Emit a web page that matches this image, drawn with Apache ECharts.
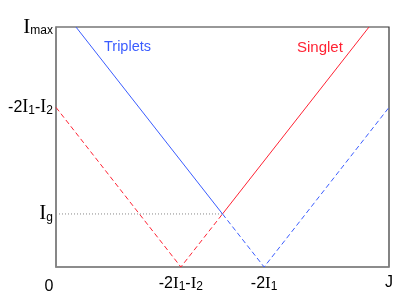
<!DOCTYPE html>
<html><head><meta charset="utf-8">
<script src="https://cdn.jsdelivr.net/npm/echarts@6/dist/echarts.min.js"></script>
<style>html,body{margin:0;padding:0;background:#fff}#c{width:415px;height:302px}</style>
</head><body><div id="c"></div>
<script>
// Tick positions (fractions of J and I_max) and labels
const xTickValues = [0, 0.375, 0.625, 1];
const xTickLabels = ['0', '-2I_1-I_2', '-2I_1', 'J'];
const yTickValues = [0.221, 0.665, 1];
const yTickLabels = ['I_g', '-2I_1-I_2', 'I_max'];
// Energy branches
const redDashed = [[0, 0.665], [0.375, 0], [0.5, 0.221]];
const redSolid = [[0.5, 0.221], [0.94, 1]];
const blueSolid = [[0.06, 1], [0.5, 0.221]];
const blueDashed = [[0.5, 0.221], [0.625, 0], [1, 0.665]];
const gapLine = [[0, 0.221], [0.5, 0.221]];
const seriesNames = ['Triplets', 'Singlet'];

function toRich(s, big) {
  let out = '', i = 0;
  while (i < s.length) {
    const c = s[i];
    if (c === 'I') { out += '{' + (big ? 'I' : 'i') + '|I}'; i++; }
    else if (c === '_') {
      let j = i + 1, t = '';
      while (j < s.length && s[j] !== '-') { t += s[j]; j++; }
      out += '{b|' + t + '}'; i = j;
    } else {
      let t = '';
      while (i < s.length && s[i] !== 'I' && s[i] !== '_') { t += s[i]; i++; }
      out += '{n|' + t + '}';
    }
  }
  return out;
}
function findLabel(vals, labels, v) {
  for (let k = 0; k < vals.length; k++) if (Math.abs(vals[k] - v) < 1e-6) return labels[k];
  return '';
}
const SANS = '"Liberation Sans", Arial, sans-serif';
const SERIF = '"Liberation Serif", "Times New Roman", serif';
function richStyles(fs, ifs, bigfs) {
  return {
    n: { fontFamily: SANS, fontSize: fs, color: '#000' },
    i: { fontFamily: SERIF, fontSize: ifs, color: '#000' },
    I: { fontFamily: SERIF, fontSize: bigfs, color: '#000' },
    b: { fontFamily: SANS, fontSize: 12, color: '#000', lineHeight: 12, padding: [7, 0, 0, 0] },
    z: { fontFamily: SANS, fontSize: 16, color: '#000', padding: [4, 14, 0, 0] }
  };
}
const RED = '#ff2233', BLUE = '#3a5cff';
const chart = echarts.init(document.getElementById('c'), null, { renderer: 'canvas' });
chart.setOption({
  animation: false,
  backgroundColor: '#fff',
  grid: { left: 56, right: 26, top: 27, bottom: 35, show: true, borderColor: '#333', borderWidth: 1.2 },
  xAxis: {
    type: 'value', min: 0, max: 1,
    splitLine: { show: false },
    axisTick: { show: false },
    axisLine: { show: true, lineStyle: { color: '#888', width: 1.5 } },
    axisLabel: {
      customValues: xTickValues, showMinLabel: true, showMaxLabel: true, hideOverlap: false,
      margin: 8,
      formatter: v => { const s = findLabel(xTickValues, xTickLabels, v); return s === '0' ? '{z|0}' : toRich(s, false); },
      rich: richStyles(16, 17, 17)
    }
  },
  yAxis: {
    type: 'value', min: 0, max: 1,
    splitLine: { show: false },
    axisTick: { show: false },
    axisLine: { show: true, lineStyle: { color: '#888', width: 1.5 } },
    axisLabel: {
      customValues: yTickValues, showMinLabel: true, showMaxLabel: true, hideOverlap: false,
      margin: 3,
      formatter: v => { const s = findLabel(yTickValues, yTickLabels, v); return toRich(s, s !== '-2I_1-I_2'); },
      rich: richStyles(16, 18, 21)
    }
  },
  graphic: [
    { type: 'text', left: 104, top: 39, style: { text: seriesNames[0], font: '14.5px ' + SANS, fill: BLUE } },
    { type: 'text', left: 297, top: 40, style: { text: seriesNames[1], font: '15px ' + SANS, fill: RED } }
  ],
  series: [
    { type: 'line', data: gapLine, symbol: 'none', silent: true, lineStyle: { color: '#888', width: 1, type: [1, 2] } },
    { type: 'line', data: redDashed, symbol: 'none', silent: true, lineStyle: { color: RED, width: 1, type: [5, 3] } },
    { type: 'line', data: redSolid, symbol: 'none', silent: true, lineStyle: { color: RED, width: 1 } },
    { type: 'line', data: blueDashed, symbol: 'none', silent: true, lineStyle: { color: BLUE, width: 1, type: [5, 3] } },
    { type: 'line', data: blueSolid, symbol: 'none', silent: true, lineStyle: { color: BLUE, width: 1 } }
  ]
});
</script></body></html>
